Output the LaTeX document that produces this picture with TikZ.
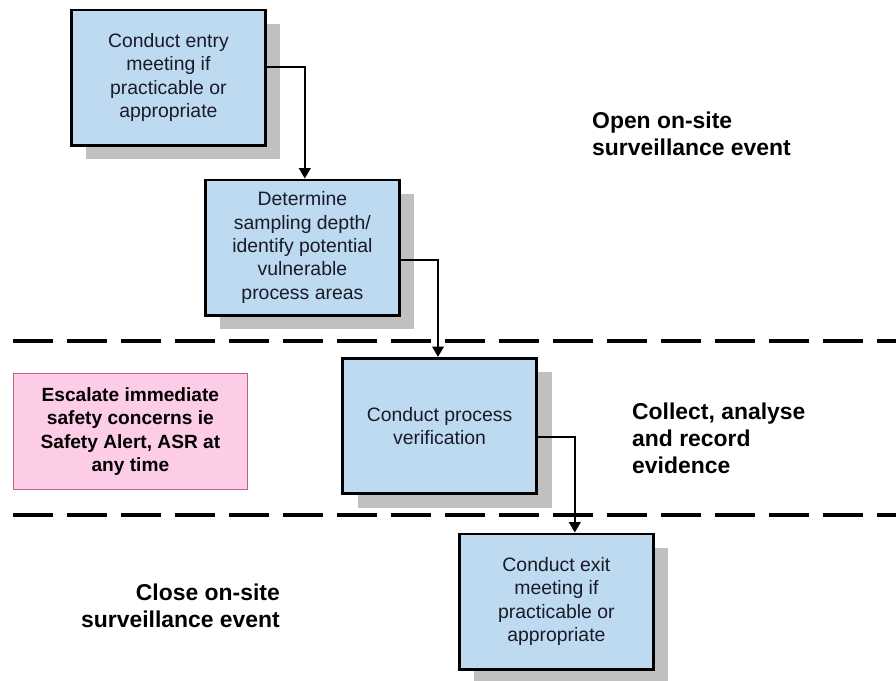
\documentclass[tikz,border=0pt]{standalone}
\usepackage{fontspec}
\setmainfont{Liberation Sans}
\usetikzlibrary{arrows.meta, positioning, calc, shadows}
\definecolor{boxblue}{HTML}{BDDAF0}
\definecolor{alertpink}{HTML}{FDCCE6}
\definecolor{alertedge}{HTML}{B8648E}
\definecolor{shade}{HTML}{C0C0C0}
\definecolor{ink}{HTML}{1A1A28}

\tikzset{
  stepbox/.style={draw=black, line width=2.1pt, fill=boxblue,
    minimum width=4.85cm, minimum height=3.38cm,
    align=center, text=ink, font=\fontsize{13.8}{16.6}\selectfont,
    general shadow={fill=shade, shadow xshift=0.375cm, shadow yshift=-0.35cm}},
  alertbox/.style={draw=alertedge, line width=1pt, fill=alertpink,
    minimum width=5.85cm, minimum height=2.9cm,
    align=center, font=\bfseries\fontsize{13.6}{16.6}\selectfont},
  phase/.style={font=\bfseries\fontsize{16.3}{19.2}\selectfont},
  flow/.style={line width=1.4pt, -{Triangle[length=2.6mm, width=2.9mm]}},
  divider/.style={line width=2.8pt, dash pattern=on 1cm off 0.35cm}
}

\begin{document}
\begin{tikzpicture}

% Page frame
\useasboundingbox (0,0) rectangle (22.4,17);

% Phase dividers
\draw[divider] (0.325,8.475) -- (22.4,8.475);
\draw[divider] (0.325,4.125) -- (22.4,4.125);

% Process steps
\node[stepbox] (entry) at (4.21,15.06)
  {Conduct entry\\meeting if\\practicable or\\appropriate};
\node[stepbox] (depth) at (7.56,10.81)
  {Determine\\sampling depth/\\identify potential\\vulnerable\\process areas};
\node[stepbox] (verify) at (10.99,6.35)
  {Conduct process\\verification};
\node[stepbox] (exit) at (13.91,1.96)
  {Conduct exit\\meeting if\\practicable or\\appropriate};

% Escalation note
\node[alertbox] (alert) at (3.26,6.21)
  {Escalate immediate\\safety concerns ie\\Safety Alert, ASR at\\any time};

% Phase labels
\node[phase, anchor=west, align=left] (open) at (14.68,13.65)
  {Open on-site\\surveillance event};
\node[phase, anchor=west, align=left] (collect) at (15.68,6.05)
  {Collect, analyse\\and record\\evidence};
\node[phase, anchor=east, align=right] (close) at (7.12,1.85)
  {Close on-site\\surveillance event};

% Connectors
\draw[flow] ([yshift=0.26cm]entry.east) -| ([xshift=0.06cm]depth.north);
\draw[flow] ([yshift=-0.31cm]depth.east) -| ([xshift=-0.04cm]verify.north);
\draw[flow] ([yshift=-0.28cm]verify.east) -| ([xshift=0.46cm]exit.north);

\end{tikzpicture}
\end{document}
